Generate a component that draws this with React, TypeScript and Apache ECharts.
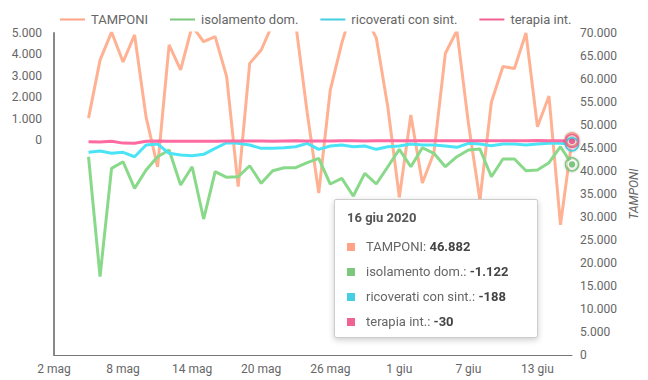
import React, { useEffect, useRef } from "react";
import * as echarts from "echarts";

const dates = [
  "2 mag", "3 mag", "4 mag", "5 mag", "6 mag", "7 mag", "8 mag", "9 mag", "10 mag", "11 mag",
  "12 mag", "13 mag", "14 mag", "15 mag", "16 mag", "17 mag", "18 mag", "19 mag", "20 mag", "21 mag",
  "22 mag", "23 mag", "24 mag", "25 mag", "26 mag", "27 mag", "28 mag", "29 mag", "30 mag", "31 mag",
  "1 giu", "2 giu", "3 giu", "4 giu", "5 giu", "6 giu", "7 giu", "8 giu", "9 giu", "10 giu",
  "11 giu", "12 giu", "13 giu", "14 giu", "15 giu", "16 giu",
];

const tamponi = [
  null, null, null, 51500, 64100, 70200, 63700, 69600, 51700, 40900,
  67400, 62000, 71500, 68100, 69200, 60500, 36600, 63400, 66300, 72000,
  75000, 72000, 52600, 35200, 57600, 67800, 76000, 74000, 68900, 53900,
  34300, 52200, 37400, 43900, 65600, 70500, 50400, 33700, 55000, 62700,
  62300, 70000, 49600, 56300, 28300, 46882,
];

const isolamento = [
  null, null, null, -764, -6350, -1305, -997, -2236, -1383, -764,
  -452, -2082, -1230, -3666, -1462, -1723, -1695, -1183, -2003, -1416,
  -1276, -1276, -1043, -838, -2035, -1770, -2594, -1537, -2035, -1230,
  -419, -1230, -345, -605, -1230, -764, -452, -405, -1695, -871,
  -871, -1416, -1383, -1043, -298, -1122,
];

const ricoverati = [
  null, null, null, -559, -498, -605, -559, -764, -219, -172,
  -605, -684, -717, -652, -373, -112, -140, -219, -373, -373,
  -345, -298, -140, -419, -265, -219, -298, -265, -419, -298,
  -265, -172, -219, -219, -265, -326, -140, -172, -250, -172,
  -172, -219, -172, -140, -140, -188,
];

const terapia = [
  null, null, null, -65, -80, -40, -130, -140, -40, -30,
  -40, -40, -45, -40, -40, -35, -30, -35, -30, -40,
  -30, -25, -30, -35, -30, -25, -20, -30, -25, -20,
  -25, -20, -15, -20, -25, -20, -15, -20, -15, -20,
  -20, -15, -10, -20, -15, -30,
];

const seriesNames = ["TAMPONI", "isolamento dom.", "ricoverati con sint.", "terapia int."];
const colors = ["#FFA286", "#7DC67E", "#45CFE0", "#F06292"];
const year = "2020";

const fmt = (v: number) => {
  const s = Math.abs(v).toString().replace(/\B(?=(\d{3})+(?!\d))/g, ".");
  return (v < 0 ? "-" : "") + s;
};

export default function App() {
  const ref = useRef<HTMLDivElement>(null);
  useEffect(() => {
    document.body.style.margin = "0";
    const chart = echarts.init(ref.current!, null, { renderer: "svg" });
    const font = "Roboto";
    const dataSets = [tamponi, isolamento, ricoverati, terapia];
    const last = dates.length - 1;
    chart.setOption({
      animation: false,
      color: colors,
      textStyle: { fontFamily: font },
      legend: {
        left: 53,
        top: 8,
        itemGap: 20,
        itemWidth: 27,
        itemHeight: 4,
        icon: "rect",
        textStyle: { fontFamily: font, fontSize: 13, color: "#666" },
        data: seriesNames,
      },
      grid: { left: 54, right: 76, top: 33, bottom: 25, containLabel: false },
      tooltip: {
        trigger: "axis",
        triggerOn: "none",
        alwaysShowContent: true,
        position: [334, 199],
        axisPointer: { type: "none" },
        backgroundColor: "#fff",
        borderColor: "#ccc",
        borderWidth: 1,
        padding: [10, 12, 6, 12],
        textStyle: { fontFamily: font, fontSize: 13, color: "#666" },
        extraCssText: "box-shadow: 0 2px 6px rgba(0,0,0,0.2); border-radius: 2px; width: 178px;",
        formatter: (params: any) => {
          const arr = Array.isArray(params) ? params : [params];
          let html = `<div style="font-weight:bold;color:#555;line-height:16px;font-size:13px">${arr[0].axisValue} ${year}</div>`;
          arr.forEach((p: any, i: number) => {
            html += `<div style="line-height:18px;margin-top:${i === 0 ? 12 : 7}px;white-space:nowrap"><span style="display:inline-block;width:8px;height:8px;background:${p.color};margin-right:11px;vertical-align:middle;margin-top:-2px"></span>${p.seriesName}: <b style="color:#444">${fmt(p.value)}</b></div>`;
          });
          return html;
        },
      },
      xAxis: {
        type: "category",
        data: dates,
        boundaryGap: false,
        axisLine: { show: true, onZero: false, lineStyle: { color: "#777" } },
        axisTick: { show: false },
        axisLabel: { interval: 5, margin: 8, fontSize: 12, color: "#666", fontFamily: font },
        splitLine: { show: false },
      },
      yAxis: [
        {
          type: "value",
          position: "left",
          min: -10000,
          max: 5000,
          interval: 1000,
          axisLine: { show: true, onZero: false, lineStyle: { color: "#888", width: 2 } },
          axisTick: { show: false },
          splitLine: { show: false },
          axisLabel: {
            margin: 12,
            fontSize: 12,
            color: "#666",
            fontFamily: font,
            formatter: (v: number) => (v < 0 ? "" : fmt(v)),
          },
        },
        {
          type: "value",
          position: "right",
          min: 0,
          max: 70000,
          interval: 5000,
          name: "TAMPONI",
          nameLocation: "middle",
          nameGap: 52,
          nameTextStyle: { fontStyle: "italic", fontSize: 12, color: "#666", fontFamily: font },
          axisLine: { show: false, onZero: false },
          axisTick: { show: false },
          splitLine: { show: false },
          axisLabel: { margin: 8, fontSize: 12, color: "#666", fontFamily: font, formatter: (v: number) => fmt(v) },
        },
      ],
      series: dataSets.map((d, i) => ({
        name: seriesNames[i],
        type: "line",
        yAxisIndex: i === 0 ? 1 : 0,
        data: d,
        showSymbol: false,
        symbol: "circle",
        symbolSize: 8,
        lineStyle: { width: 3, color: colors[i] },
        itemStyle: { color: colors[i], borderColor: "#fff", borderWidth: 1.5 },
        emphasis: { scale: false, itemStyle: { borderColor: "#fff", borderWidth: 1.5 } },
        markPoint: {
          silent: true,
          symbol: "circle",
          symbolSize: 13,
          label: { show: false },
          itemStyle: {
            color: "rgba(255,255,255,0)",
            borderColor: colors[i],
            borderWidth: 1.5,
            shadowColor: "rgba(0,0,0,0.3)",
            shadowBlur: 2,
          },
          data: [{ coord: [dates[last], d[last]] }],
        },
        clip: true,
      })),
    });
    chart.dispatchAction({ type: "showTip", seriesIndex: 0, dataIndex: last });
    return () => chart.dispose();
  }, []);
  return <div ref={ref} style={{ position: "absolute", left: 0, top: 0, width: 648, height: 380 }} />;
}
